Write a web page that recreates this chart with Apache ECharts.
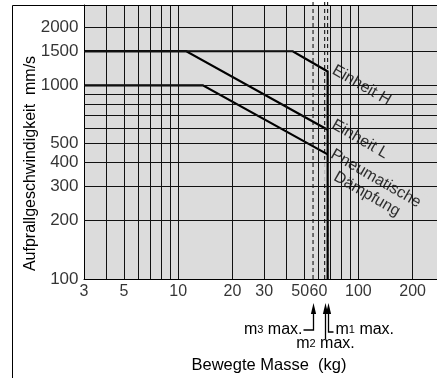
<!DOCTYPE html>
<html>
<head>
<meta charset="utf-8">
<script src="https://cdn.jsdelivr.net/npm/echarts@6/dist/echarts.min.js"></script>
<style>
  html, body { margin: 0; padding: 0; background: #fff; }
  #chart { width: 437px; height: 378px; }
</style>
</head>
<body>
<div id="chart"></div>
<script>
// Tick labels shown on the axes
const massTicks = [3, 5, 10, 20, 30, 50, 60, 100, 200];
const speedTicks = [100, 200, 300, 400, 500, 1000, 1500, 2000];

// Grid lines of the log paper
const massGrid = [4, 5, 6, 7, 8, 9, 10, 20, 30, 40, 50, 60, 70, 80, 90, 100, 200];
const speedGrid = [200, 300, 400, 500, 600, 700, 800, 900, 1000, 1500, 2000];

// Permissible impact speed (mm/s) over moving mass (kg)
const unitH = [[3, 1500], [43.2, 1500], [67.5, 1180], [67.5, 100]];
const unitL = [[3, 1500], [11.1, 1500], [67.5, 590]];
const pneumatic = [[3, 1000], [13.7, 1000], [67.5, 440]];

// Maximum masses m3, m2, m1 (kg)
const maxMassNames = ['3', '2', '1'];
const maxMassValues = [56, 65, 67.5];

// Curve names and where they are written (mass, speed)
const curveNames = ['Einheit H', 'Einheit L', 'Pneumatische\nDämpfung'];
const curveNameAnchors = [[104, 1000], [102, 527], [118, 301]];

const FONT = '"Liberation Sans", Arial, Helvetica, sans-serif';
const PAPER = '#dcdcdc';
const HIDDEN = 'rgba(0,0,0,0)';

const chart = echarts.init(document.getElementById('chart'), null, { renderer: 'canvas' });

const gridLineMarks = massGrid.map(v => ({ xAxis: v }))
  .concat(speedGrid.map(v => ({ yAxis: v })));

const option = {
  animation: false,
  textStyle: { fontFamily: FONT, color: '#000' },
  grid: {
    left: 84, right: 0, top: 5, bottom: 99,
    show: true, backgroundColor: PAPER, borderWidth: 0,
    outerBoundsMode: 'none'
  },
  xAxis: {
    type: 'log', logBase: 10, min: 3, max: 273,
    name: 'Bewegte Masse  (kg)',
    nameLocation: 'middle', nameGap: 78,
    nameTextStyle: { fontSize: 16.5, color: '#000', fontFamily: FONT, padding: [0, 0, 0, 17] },
    axisLine: { show: true, onZero: false, lineStyle: { color: '#000', width: 1 } },
    axisTick: { show: false },
    axisLabel: { show: false },
    splitLine: { show: false },
    minorTick: { show: false },
    minorSplitLine: { show: false }
  },
  yAxis: {
    type: 'log', logBase: 10, min: 100, max: 2600,
    name: 'Aufprallgeschwindigkeit  mm/s',
    nameLocation: 'middle', nameGap: 45,
    nameTextStyle: { fontSize: 16, color: '#000', fontFamily: FONT, padding: [0, 43, 0, 0] },
    axisLine: { show: true, onZero: false, lineStyle: { color: '#000', width: 1 } },
    axisTick: { show: false },
    axisLabel: { show: false },
    splitLine: { show: false },
    minorTick: { show: false },
    minorSplitLine: { show: false }
  },
  series: [
    // log paper grid
    {
      type: 'line', data: [[3, 100]], symbol: 'none', silent: true, z: 1,
      lineStyle: { opacity: 0 },
      markLine: {
        silent: true, animation: false,
        symbol: ['none', 'none'],
        label: { show: false },
        emphasis: { disabled: true },
        lineStyle: { color: '#111', width: 1, type: 'solid' },
        data: gridLineMarks
      }
    },
    // dashed lines at the maximum masses
    ...maxMassValues.map(m => ({
      type: 'line', data: [[m, 100], [m, 3000]], clip: false,
      symbol: 'none', silent: true, z: 2,
      lineStyle: { color: '#000', width: 1, type: [4, 3] }
    })),
    // curve names
    {
      type: 'scatter', z: 3, silent: true, clip: false,
      symbolSize: 1, itemStyle: { color: HIDDEN },
      data: curveNames.map((n, i) => ({ name: n, value: curveNameAnchors[i] })),
      label: {
        show: true, position: 'inside', rotate: -30,
        formatter: '{b}', fontSize: 16, lineHeight: 18, color: '#000',
        fontFamily: FONT, backgroundColor: PAPER, padding: [1, 3]
      }
    },
    // curves
    ...[unitH, unitL, pneumatic].map(d => ({
      type: 'line', data: d, symbol: 'none', silent: true, z: 4,
      lineStyle: { color: '#000', width: 2.2, join: 'miter' }
    })),
    // mass tick labels
    {
      type: 'scatter', z: 5, silent: true, clip: false,
      symbolSize: 1, itemStyle: { color: HIDDEN },
      data: massTicks.map(v => ({
        value: [v, 100],
        label: v === 50 ? { offset: [-4, 0] } : undefined
      })),
      label: {
        show: true, position: 'bottom', distance: 4,
        formatter: p => String(p.value[0]),
        fontSize: 16, color: '#000', fontFamily: FONT
      }
    },
    // speed tick labels
    {
      type: 'scatter', z: 5, silent: true, clip: false,
      symbolSize: 1, itemStyle: { color: HIDDEN },
      data: speedTicks.map(v => [3, v]),
      label: {
        show: true, position: 'left', distance: 5,
        formatter: p => String(p.value[1]),
        fontSize: 17, color: '#000', fontFamily: FONT
      }
    }
  ]
};

chart.setOption(option);

// Frame and the arrows marking m3/m2/m1 max.
const graphics = [{
  type: 'polyline', silent: true, z: 10,
  shape: { points: [[12.5, 378], [12.5, 5.5], [437, 5.5]] },
  style: { stroke: '#000', lineWidth: 1, fill: null }
}];

const rich = {
  n: { fontSize: 16, fontFamily: FONT, fill: '#000' },
  s: { fontSize: 11, fontFamily: FONT, fill: '#000' }
};

maxMassValues.forEach((m, i) => {
  const x = Math.round(chart.convertToPixel({ xAxisIndex: 0 }, m)) + 0.5;
  const tip = 303, base = 314;
  graphics.push({
    type: 'polygon', silent: true, z: 10,
    shape: { points: [[x, tip], [x - 2.6, base], [x + 2.6, base]] },
    style: { fill: '#000' }
  });
  let pts, tx, ty, align;
  if (i === 0) {
    pts = [[x, base - 2], [x, 330], [x - 10, 330]];
    tx = x - 11; ty = 330; align = 'right';
  } else if (i === 1) {
    pts = [[x, base - 2], [x, 339]];
    tx = x; ty = 344; align = 'center';
  } else {
    pts = [[x, base - 2], [x, 332], [x + 5, 332]];
    tx = x + 7; ty = 330; align = 'left';
  }
  graphics.push({
    type: 'polyline', silent: true, z: 10,
    shape: { points: pts },
    style: { stroke: '#000', lineWidth: 1.3, fill: null }
  });
  graphics.push({
    type: 'text', silent: true, z: 10, x: tx, y: ty,
    style: {
      text: '{n|m}{s|' + maxMassNames[i] + '}{n| max.}',
      rich: rich, fill: '#000', fontSize: 16, fontFamily: FONT,
      align: align, textAlign: align,
      verticalAlign: 'middle', textVerticalAlign: 'middle'
    }
  });
});

chart.setOption({ graphic: graphics });
</script>
</body>
</html>
